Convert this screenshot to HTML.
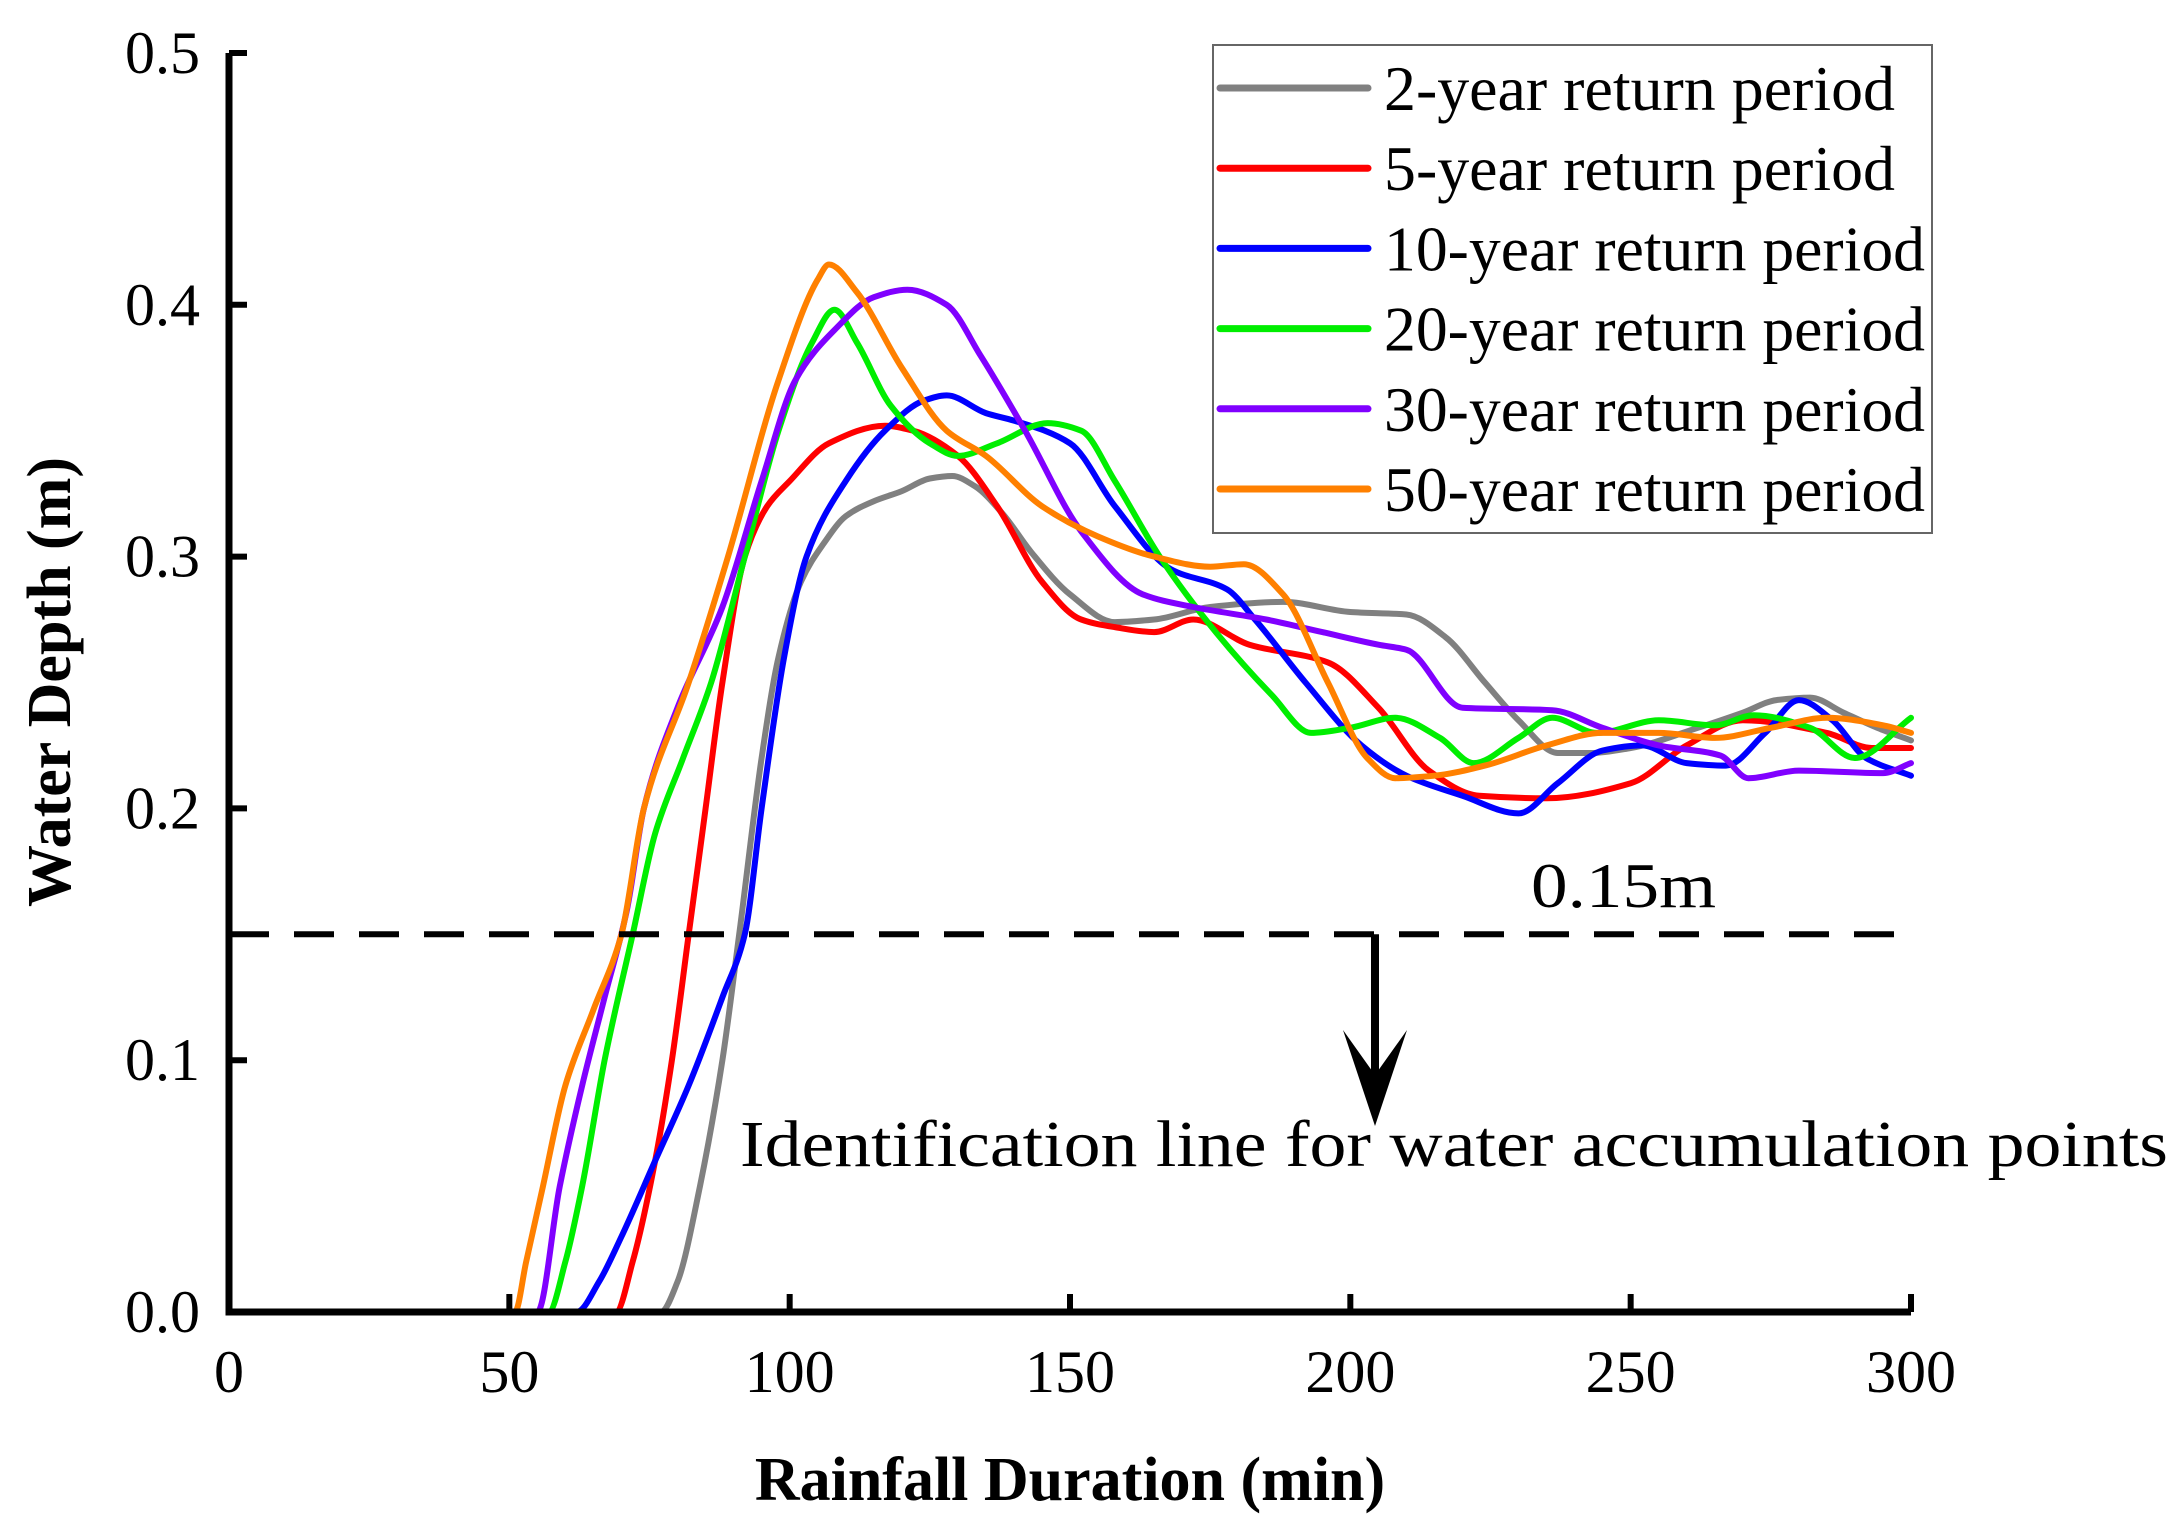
<!DOCTYPE html>
<html><head><meta charset="utf-8"><style>
html,body{margin:0;padding:0;background:#fff;}
svg{display:block;}
text{font-family:"Liberation Serif",serif;fill:#000;}
</style></head><body>
<svg id="chart" width="2182" height="1531" viewBox="0 0 2182 1531">
<g id="series"></g>
<g id="axes"></g>
<g id="legend"></g>
</svg>
<script>
const xTicks=[0,50,100,150,200,250,300];
const yTicks=[0.0,0.1,0.2,0.3,0.4,0.5];
const yTickLabels=["0.0","0.1","0.2","0.3","0.4","0.5"];
const seriesNames=["2-year return period","5-year return period","10-year return period","20-year return period","30-year return period","50-year return period"];
const seriesColors=["#808080","#ff0000","#0000ff","#00ee00","#8000ff","#ff8000"];
const thresholdValue=0.15;
const x2=[0,77,80,84,88,91,95,98,102,106,110,115,120,125,129,133,138,143,150,158,165,175,188,200,210,217,224,230,237,243,250,262,270,276,282,288,294,300];
const y2=[0,0,0.012,0.05,0.1,0.15,0.22,0.26,0.29,0.305,0.316,0.322,0.326,0.331,0.332,0.328,0.317,0.302,0.285,0.274,0.275,0.28,0.282,0.278,0.277,0.268,0.25,0.235,0.222,0.222,0.224,0.232,0.238,0.243,0.244,0.238,0.232,0.227];
const x5=[0,69,72,76,79,82,85,88,92,96,100,107,117,122,130,137,145,152,158,165,172,182,196,205,214,223,235,250,260,270,285,293,300];
const y5=[0,0,0.02,0.06,0.1,0.15,0.2,0.25,0.3,0.32,0.33,0.345,0.352,0.35,0.34,0.32,0.29,0.275,0.272,0.27,0.275,0.265,0.258,0.24,0.215,0.205,0.204,0.21,0.225,0.235,0.23,0.224,0.224];
const x10=[0,62,66,70,76,82,88,92,95,99,103,110,117,124,128,135,140,150,158,168,178,183,192,202,210,220,230,237,245,252,260,267,274,280,286,292,300];
const y10=[0,0,0.012,0.03,0.06,0.09,0.125,0.15,0.2,0.26,0.3,0.33,0.35,0.362,0.364,0.357,0.354,0.345,0.32,0.295,0.287,0.275,0.25,0.225,0.213,0.205,0.198,0.21,0.223,0.225,0.218,0.217,0.23,0.243,0.235,0.22,0.213];
const x20=[0,57,60,63,67,72,76,81,86,92,98,104,108,112,118,125,130,137,146,152,158,166,176,186,193,200,208,216,222,230,236,244,255,265,272,282,290,300];
const y20=[0,0,0.02,0.05,0.1,0.15,0.19,0.22,0.25,0.3,0.35,0.385,0.398,0.385,0.36,0.345,0.34,0.345,0.353,0.35,0.33,0.3,0.27,0.245,0.23,0.232,0.236,0.228,0.218,0.228,0.236,0.23,0.235,0.233,0.237,0.232,0.22,0.236];
const x30=[0,55,59,63,67,71,74,80,88,95,101,108,115,121,128,134,142,152,163,172,185,195,205,210,220,236,245,255,266,271,280,295,300];
const y30=[0,0,0.05,0.09,0.125,0.16,0.2,0.24,0.28,0.33,0.37,0.39,0.403,0.406,0.4,0.38,0.35,0.31,0.285,0.28,0.275,0.27,0.265,0.263,0.24,0.239,0.232,0.225,0.221,0.212,0.215,0.214,0.218];
const x50=[0,51,53,56,60,65,70,74,82,89,98,105,107,112,120,128,135,145,155,165,175,181,188,196,203,208,215,224,235,245,255,265,275,285,295,300];
const y50=[0,0,0.02,0.05,0.09,0.12,0.15,0.2,0.25,0.3,0.37,0.41,0.416,0.405,0.375,0.35,0.34,0.32,0.308,0.3,0.296,0.297,0.285,0.25,0.22,0.212,0.213,0.217,0.225,0.23,0.23,0.228,0.232,0.236,0.233,0.23];
const seriesX=[x2,x5,x10,x20,x30,x50];
const seriesY=[y2,y5,y10,y20,y30,y50];

const NS="http://www.w3.org/2000/svg";
const X0=229,X1=1911,Y0=1312,Y1=53;
function sx(v){return X0+(v-0)/(300-0)*(X1-X0);}
function sy(v){return Y0-(v-0)/(0.5-0)*(Y0-Y1);}
function mk(tag,attrs,parent,txt){const e=document.createElementNS(NS,tag);for(const k in attrs)e.setAttribute(k,attrs[k]);if(txt!==undefined)e.textContent=txt;parent.appendChild(e);return e;}
function monotonePath(P){
 const n=P.length,h=[],m=[],t=[];
 for(let i=0;i<n-1;i++){h[i]=P[i+1][0]-P[i][0];m[i]=(P[i+1][1]-P[i][1])/h[i];}
 t[0]=m[0];t[n-1]=m[n-2];
 for(let i=1;i<n-1;i++){
  if(m[i-1]*m[i]<=0)t[i]=0;
  else t[i]=3*(h[i-1]+h[i])/((2*h[i]+h[i-1])/m[i-1]+(h[i]+2*h[i-1])/m[i]);
 }
 let d='M'+P[0][0].toFixed(1)+' '+P[0][1].toFixed(1);
 for(let i=0;i<n-1;i++){
  const a=h[i]/3;
  d+=` C${(P[i][0]+a).toFixed(1)} ${(P[i][1]+t[i]*a).toFixed(1)} ${(P[i+1][0]-a).toFixed(1)} ${(P[i+1][1]-t[i+1]*a).toFixed(1)} ${P[i+1][0].toFixed(1)} ${P[i+1][1].toFixed(1)}`;
 }
 return d;
}
const ser=document.getElementById('series');
seriesX.forEach((xs,i)=>{
 const ys=seriesY[i];
 const pts=xs.map((v,j)=>[sx(v),sy(ys[j])]);
 const p=mk('path',{d:monotonePath(pts),fill:'none',stroke:seriesColors[i],'stroke-width':6,'stroke-linejoin':'round','stroke-linecap':'round'},ser);
 
 
});

const axes=document.getElementById('axes');
let e;
e=mk('path',{d:`M${X0} ${Y1} L${X0} ${Y0} L${X1} ${Y0}`,fill:'none',stroke:'#000','stroke-width':7},axes);


xTicks.forEach(t=>{
 const tk=mk('line',{x1:sx(t),x2:sx(t),y1:Y0,y2:Y0-18,stroke:'#000','stroke-width':6},axes);
 
 
 const lb=mk('text',{x:sx(t),y:1392,'font-size':60,'text-anchor':'middle'},axes,String(t));
 
 
});
yTicks.forEach((t,i)=>{
 const tk=mk('line',{x1:X0,x2:X0+18,y1:sy(t),y2:sy(t),stroke:'#000','stroke-width':6},axes);
 
 
 const lb=mk('text',{x:200,y:sy(t)+20,'font-size':60,'text-anchor':'end'},axes,yTickLabels[i]);
 
 
});
e=mk('text',{x:1070,y:1500,'font-size':62,'font-weight':'bold','text-anchor':'middle'},axes,'Rainfall Duration (min)');


e=mk('text',{x:0,y:0,'font-size':62,'font-weight':'bold','text-anchor':'middle',transform:'translate(70,682) rotate(-90)'},axes,'Water Depth (m)');



const ty=sy(thresholdValue);
e=mk('line',{x1:X0,x2:1902,y1:ty,y2:ty,stroke:'#000','stroke-width':6,'stroke-dasharray':'40 25'},axes);


e=mk('text',{x:1531,y:907,'font-size':64,textLength:185,lengthAdjust:'spacingAndGlyphs'},axes,'0.15m');


e=mk('line',{x1:1375,x2:1375,y1:ty,y2:1100,stroke:'#000','stroke-width':8},axes);


e=mk('path',{d:'M1343 1030 L1375 1126 L1407 1030 L1375 1075 Z',fill:'#000'},axes);


e=mk('text',{x:740,y:1166,'font-size':66,textLength:1428,lengthAdjust:'spacingAndGlyphs'},axes,'Identification line for water accumulation points');



const lg=document.getElementById('legend');
const legendWidths=[511,511,541,541,541,541];
e=mk('rect',{x:1213,y:45,width:719,height:488,fill:'#fff',stroke:'#666','stroke-width':2},lg);


seriesNames.forEach((n,i)=>{
 const yy=88+i*80.2;
 const ln=mk('line',{x1:1220,x2:1368,y1:yy,y2:yy,stroke:seriesColors[i],'stroke-width':7,'stroke-linecap':'round'},lg);
 
 
 const t=mk('text',{x:1384,y:yy+22,'font-size':64,textLength:legendWidths[i],lengthAdjust:'spacingAndGlyphs'},lg,n);
 
 
});
</script>
</body></html>
